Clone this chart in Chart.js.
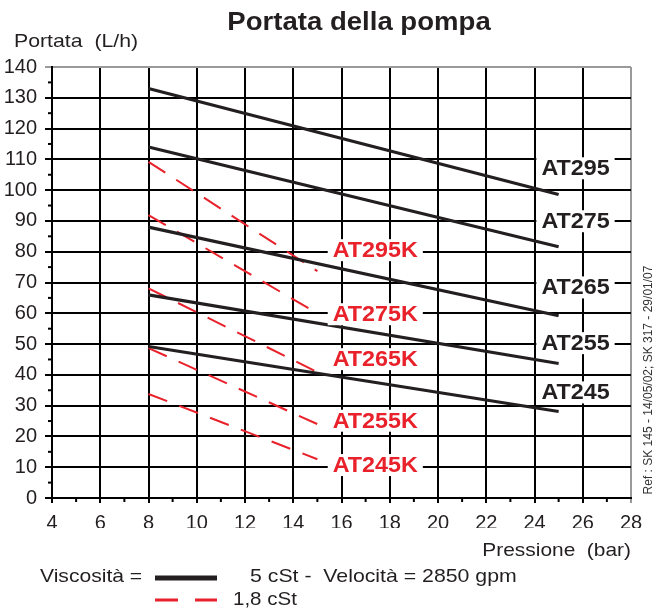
<!DOCTYPE html>
<html>
<head>
<meta charset="utf-8">
<title>Portata della pompa</title>
<script src="https://cdn.jsdelivr.net/npm/chart.js@4.4.0/dist/chart.umd.min.js"></script>
<style>
  html, body { margin: 0; padding: 0; background: #fff; }
  #wrap { position: relative; width: 665px; height: 611px; }
</style>
</head>
<body>
<div id="wrap"><canvas id="pompaChart" width="665" height="611"></canvas></div>
<script>
/* ---- data ---- */
const pressioneStd = [8, 25];          // bar, 5 cSt curves
const pressioneK = [8, 15];            // bar, 1,8 cSt curves
const modelliStd = ['AT295', 'AT275', 'AT265', 'AT255', 'AT245'];
const portataStdInizio = [133, 114, 88, 66, 49.2];
const portataStdFine = [98.6, 81.6, 59.2, 43.7, 28.1];
const modelliK = ['AT295K', 'AT275K', 'AT265K', 'AT255K', 'AT245K'];
const portataKInizio = [109.2, 91.9, 68.1, 48.7, 33.8];
const portataKFine = [73.7, 60.0, 40.9, 24.0, 12.6];
const xTickValues = [4, 6, 8, 10, 12, 14, 16, 18, 20, 22, 24, 26, 28];
const yTickValues = [0, 10, 20, 30, 40, 50, 60, 70, 80, 90, 100, 110, 120, 130, 140];
// label anchors (data units)
const etichettaStdX = 25.7;
const etichettaStdY = [107.1, 89.9, 68.4, 50.3, 34.3];
const etichettaKX = 17.4;
const etichettaKY = [80.5, 59.7, 45.1, 25.1, 10.7];

const FONT = "'Liberation Sans', Arial, sans-serif";
const NERO = '#231f20';
const ROSSO = '#e8212a';
const BORDO = '#9a9a9a';

const datasets = [];
modelliStd.forEach((m, i) => {
  datasets.push({
    label: m,
    data: pressioneStd.map((p, j) => ({ x: p, y: j === 0 ? portataStdInizio[i] : portataStdFine[i] })),
    borderColor: NERO, borderWidth: 3.2, showLine: true, pointRadius: 0, borderCapStyle: 'butt'
  });
});
modelliK.forEach((m, i) => {
  datasets.push({
    label: m,
    data: pressioneK.map((p, j) => ({ x: p, y: j === 0 ? portataKInizio[i] : portataKFine[i] })),
    borderColor: ROSSO, borderWidth: 2, borderDash: [20, 13], showLine: true, pointRadius: 0
  });
});

// text a bit wider than the font, like the reference scan
function testoLargo(ctx, txt, px, py, align, sx) {
  ctx.save();
  ctx.translate(px, py);
  ctx.scale(sx, 1);
  ctx.textAlign = align;
  ctx.fillText(txt, 0, 0);
  ctx.restore();
}

// minor ticks, boxed labels, titles and legend
const decorPlugin = {
  id: 'decor',
  afterDatasetsDraw(chart) {
    const { ctx, chartArea: a, scales: { x, y } } = chart;
    ctx.save();

    // minor ticks
    ctx.strokeStyle = '#000';
    ctx.lineWidth = 2;
    for (let i = 0; i < xTickValues.length - 1; i++) {
      const px = x.getPixelForValue((xTickValues[i] + xTickValues[i + 1]) / 2);
      ctx.beginPath(); ctx.moveTo(px, a.bottom); ctx.lineTo(px, a.bottom + 4); ctx.stroke();
    }
    for (let i = 0; i < yTickValues.length - 1; i++) {
      const py = y.getPixelForValue((yTickValues[i] + yTickValues[i + 1]) / 2);
      ctx.beginPath(); ctx.moveTo(a.left - 4, py); ctx.lineTo(a.left, py); ctx.stroke();
    }

    // curve labels on white boxes
    const boxed = (txt, vx, vy, col) => {
      ctx.font = 'bold 22px ' + FONT;
      const w = ctx.measureText(txt).width * 1.06;
      const px = x.getPixelForValue(vx), py = y.getPixelForValue(vy);
      ctx.fillStyle = '#fff';
      ctx.fillRect(px - w / 2 - 5, py - 11, w + 10, 22);
      ctx.fillStyle = col;
      ctx.textBaseline = 'middle';
      testoLargo(ctx, txt, px, py + 1, 'center', 1.06);
    };
    modelliStd.forEach((m, i) => boxed(m, etichettaStdX, etichettaStdY[i], NERO));
    modelliK.forEach((m, i) => boxed(m, etichettaKX, etichettaKY[i], ROSSO));

    // title
    ctx.fillStyle = NERO;
    ctx.textBaseline = 'middle';
    ctx.font = 'bold 26px ' + FONT;
    testoLargo(ctx, 'Portata della pompa', 359, 23, 'center', 1.06);

    // axis titles
    ctx.font = '19px ' + FONT;
    testoLargo(ctx, 'Portata  (L/h)', 14, 42, 'left', 1.12);
    testoLargo(ctx, 'Pressione  (bar)', a.right, 551, 'right', 1.1);

    // legend
    testoLargo(ctx, 'Viscosità =', 40, 577, 'left', 1.11);
    testoLargo(ctx, '5 cSt -  Velocità = 2850 gpm', 250, 577, 'left', 1.12);
    testoLargo(ctx, '1,8 cSt', 233, 600, 'left', 1.08);
    ctx.strokeStyle = NERO;
    ctx.lineWidth = 5;
    ctx.beginPath(); ctx.moveTo(155, 578); ctx.lineTo(217, 578); ctx.stroke();
    ctx.strokeStyle = ROSSO;
    ctx.lineWidth = 3;
    ctx.setLineDash([23, 17]);
    ctx.beginPath(); ctx.moveTo(155, 600); ctx.lineTo(217, 600); ctx.stroke();
    ctx.setLineDash([]);

    // reference note
    ctx.translate(649, 380);
    ctx.rotate(-Math.PI / 2);
    ctx.textAlign = 'center';
    ctx.font = '12px ' + FONT;
    ctx.fillStyle = '#333';
    ctx.fillText('Ref : SK 145 - 14/05/02; SK 317 - 29/01/07', 0, 0);

    ctx.restore();
  }
};

new Chart(document.getElementById('pompaChart').getContext('2d'), {
  type: 'scatter',
  data: { datasets },
  options: {
    responsive: false,
    animation: false,
    events: [],
    layout: { padding: { top: 67, right: 34, bottom: 83, left: 0 } },
    plugins: { legend: { display: false }, tooltip: { enabled: false }, title: { display: false } },
    scales: {
      x: {
        type: 'linear',
        min: xTickValues[0], max: xTickValues[xTickValues.length - 1],
        afterBuildTicks: s => { s.ticks = xTickValues.map(v => ({ value: v })); },
        afterFit: s => { s.height = 30; },
        grid: { color: c => (c.tick && c.tick.value === 28 ? BORDO : '#000'), lineWidth: 2, tickLength: 5, drawTicks: true },
        border: { color: '#000', width: 2 },
        ticks: { color: NERO, font: { family: FONT, size: 20 }, padding: 8, maxRotation: 0 }
      },
      y: {
        min: yTickValues[0], max: yTickValues[yTickValues.length - 1],
        afterBuildTicks: s => { s.ticks = yTickValues.map(v => ({ value: v })); },
        afterFit: s => { s.width = 52; },
        grid: { color: c => (c.tick && c.tick.value === 140 ? BORDO : '#000'), lineWidth: 2, tickLength: 7, drawTicks: true },
        border: { color: '#000', width: 2 },
        ticks: { color: NERO, font: { family: FONT, size: 20 }, padding: 8 }
      }
    }
  },
  plugins: [decorPlugin]
});
</script>
</body>
</html>
